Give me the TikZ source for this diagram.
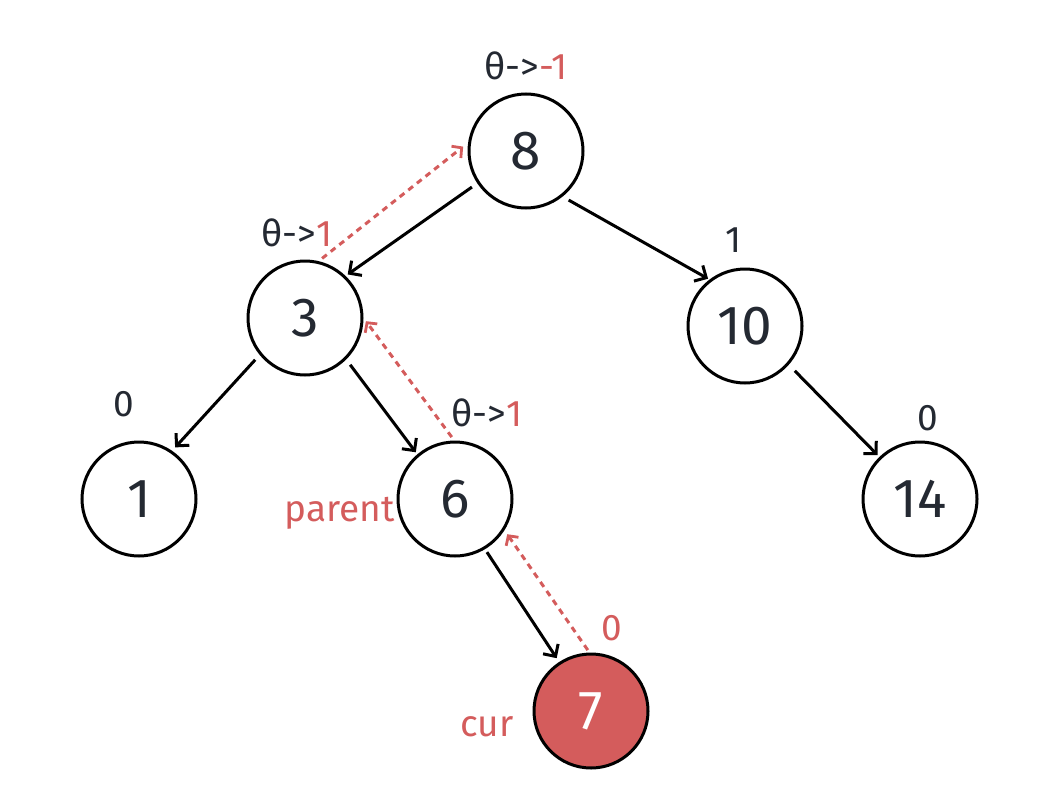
\documentclass[tikz,border=0pt]{standalone}
\usepackage{fontspec}
\setmainfont{Fira Sans}
\usetikzlibrary{arrows.meta,calc}
\definecolor{txt}{RGB}{36,41,50}
\definecolor{hl}{RGB}{212,92,92}
\begin{document}
\begin{tikzpicture}[x=1pt,y=-1pt,
  tnode/.style={circle,draw=black,line width=3pt,minimum size=114pt,inner sep=0pt,
    font=\fontsize{55}{55}\selectfont,text=txt},
  curnode/.style={tnode,fill=hl,text=white},
  edge/.style={draw=black,line width=3pt,-{Straight Barb[length=9pt,width=18pt,line width=3pt]}},
  back/.style={draw=hl,line width=3pt,dash pattern=on 6pt off 5pt,-{Straight Barb[length=7pt,width=15pt,line width=2.8pt]}},
  lbl/.style={font=\fontsize{37}{37}\selectfont,text=txt,inner sep=0pt},
  rlbl/.style={lbl,text=hl}]
\useasboundingbox (0,0) rectangle (1043,797);
\node[tnode] (n8) at (526,151) {8};
\node[tnode] (n3) at (305,318) {3};
\node[tnode] (n10) at (745,326) {10};
\node[tnode] (n1) at (139,499) {1};
\node[tnode] (n6) at (455,499) {6};
\node[tnode] (n14) at (920,499) {14};
\node[curnode] (n7) at (591,711) {7};
% black edges
\draw[edge] ($(n8)+(-213.7:65)$) -- ($(n3)+(-45.6:61)$);
\draw[edge] ($(n8)+(49:65)$) -- ($(n10)+(-128:60)$);
\draw[edge] ($(n3)+(-220:65)$) -- ($(n1)+(-55:63)$);
\draw[edge] ($(n3)+(46:65)$) -- ($(n6)+(-130:61)$);
\draw[edge] ($(n10)+(42:67)$) -- ($(n14)+(-134:61)$);
\draw[edge] ($(n6)+(59:62)$) -- ($(n7)+(-123:63)$);
% back edges
\draw[back] ($(n3)+(-74:62)$) -- ($(n8)+(-176:63)$);
\draw[back] ($(n6)+(-93:62)$) -- ($(n3)+(3:61)$);
\draw[back] ($(n7)+(-93:61)$) -- ($(n6)+(34:63)$);
% labels
\node[lbl] (l8) at (526,66) {θ->\textcolor{hl}{-1}};
\node[lbl] (l3) at (297,233) {θ->\textcolor{hl}{1}};
\node[lbl] (l10) at (733,240) {1};
\node[lbl] (l1) at (124,404) {0};
\node[lbl] (l6) at (487,413) {θ->\textcolor{hl}{1}};
\node[lbl] (l14) at (928,418) {0};
\node[rlbl] (l7) at (612,628) {0};
\node[rlbl,anchor=east] (lp) at (395,513) {parent};
\node[rlbl] (lc) at (487,727) {cur};
\end{tikzpicture}
\end{document}
